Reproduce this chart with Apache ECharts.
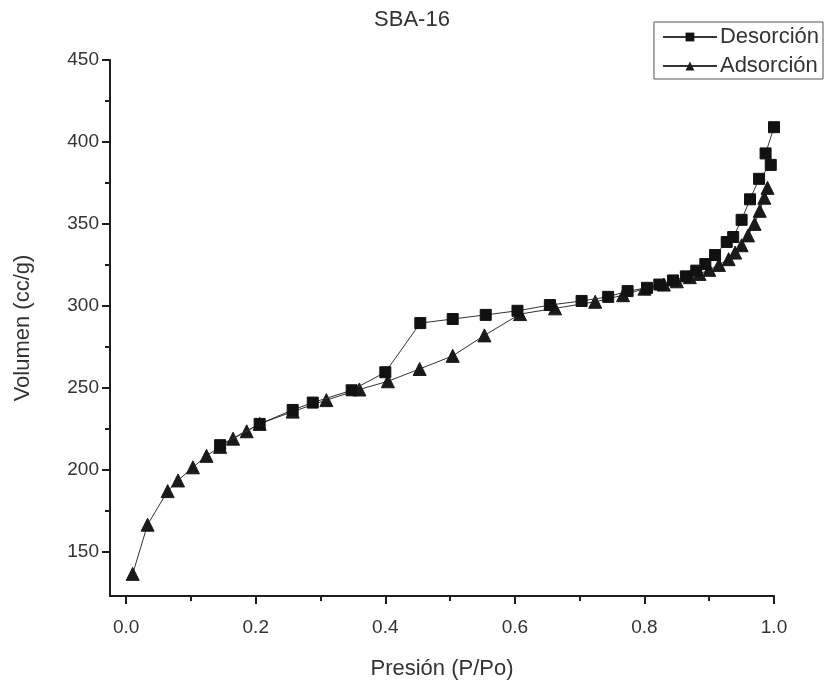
<!DOCTYPE html>
<html>
<head>
<meta charset="utf-8">
<script src="https://cdn.jsdelivr.net/npm/echarts@6/dist/echarts.min.js"></script>
<style>html,body{margin:0;padding:0;background:#fff}#c{width:829px;height:692px}</style>
</head>
<body>
<div id="c"></div>
<script>
// ---- data ----
var titleText = 'SBA-16';
var xName = 'Presión (P/Po)';
var yName = 'Volumen (cc/g)';
var xTickLabels = [0.0, 0.2, 0.4, 0.6, 0.8, 1.0];
var xMinorTicks = [0.1, 0.3, 0.5, 0.7, 0.9];
var yTickLabels = [150, 200, 250, 300, 350, 400, 450];
var yMinorTicks = [175, 225, 275, 325, 375, 425];

var desorcionP = [1.000, 0.987, 0.995, 0.977, 0.963, 0.950, 0.937, 0.927, 0.909, 0.894, 0.880, 0.864, 0.844, 0.823, 0.804, 0.774, 0.744, 0.703, 0.654, 0.604, 0.555, 0.504, 0.454, 0.400, 0.348, 0.288, 0.257, 0.206, 0.145];
var desorcionV = [409, 393, 386, 377.5, 365, 352.5, 342, 339, 331, 325.5, 321.5, 318, 315.5, 313, 311, 309, 305.5, 303, 300.5, 297, 294.5, 292, 289.5, 259.5, 248.5, 241, 236.5, 228, 215];

var adsorcionP = [0.010, 0.033, 0.064, 0.080, 0.103, 0.124, 0.145, 0.165, 0.186, 0.206, 0.257, 0.309, 0.360, 0.404, 0.453, 0.504, 0.553, 0.608, 0.662, 0.724, 0.767, 0.800, 0.830, 0.850, 0.870, 0.885, 0.900, 0.915, 0.930, 0.940, 0.950, 0.960, 0.970, 0.978, 0.985, 0.990];
var adsorcionV = [136.5, 166.5, 187, 193.5, 201.5, 208.5, 214, 219, 223.5, 228, 235.5, 242.5, 249, 254, 261.5, 269.5, 282, 295, 298.5, 302.5, 306.5, 310.5, 313, 315, 317.5, 319.5, 322, 325, 328.5, 332.5, 337, 343, 350, 358, 366, 372];

function pairs(xs, ys) { return xs.map(function (x, i) { return [x, ys[i]]; }); }

var ink = '#1e1e1e';
var fontFam = '"Liberation Sans", Arial, sans-serif';

var chart = echarts.init(document.getElementById('c'), null, { renderer: 'canvas' });
chart.setOption({
  backgroundColor: '#ffffff',
  animation: false,
  title: {
    text: titleText, left: 407, top: 4, textAlign: 'center',
    textStyle: { fontFamily: fontFam, fontSize: 22, fontWeight: 'normal', color: '#333' }
  },
  legend: {
    orient: 'vertical', right: 6, top: 22,
    borderColor: '#555', borderWidth: 1, borderRadius: 0,
    padding: [4, 4, 2, 8], itemGap: 7,
    itemWidth: 54, itemHeight: 11,
    textStyle: { fontFamily: fontFam, fontSize: 22, color: '#333', padding: [0, 0, 0, -2] },
    data: ['Desorción', 'Adsorción']
  },
  grid: { left: 110, right: 55, top: 60, bottom: 96, containLabel: false },
  xAxis: [
    {
      type: 'value', min: -0.025, max: 1.0,
      name: xName, nameLocation: 'middle', nameGap: 62,
      nameTextStyle: { fontFamily: fontFam, fontSize: 22, color: '#333' },
      axisLine: { show: true, onZero: false, lineStyle: { color: ink, width: 2 } },
      axisTick: { show: true, inside: false, length: 8, lineStyle: { color: ink, width: 2 }, customValues: xTickLabels },
      axisLabel: { show: true, margin: 22, fontFamily: fontFam, fontSize: 19, color: '#333', customValues: xTickLabels, formatter: function (v) { return v.toFixed(1); } },
      splitLine: { show: false }
    },
    {
      type: 'value', min: -0.025, max: 1.0, position: 'bottom',
      axisLine: { show: false, onZero: false },
      axisTick: { show: true, inside: false, length: 5, lineStyle: { color: ink, width: 2 }, customValues: xMinorTicks },
      axisLabel: { show: false },
      splitLine: { show: false }
    }
  ],
  yAxis: [
    {
      type: 'value', min: 123, max: 450,
      name: yName, nameLocation: 'middle', nameGap: 76,
      nameTextStyle: { fontFamily: fontFam, fontSize: 22, color: '#333' },
      axisLine: { show: true, onZero: false, lineStyle: { color: ink, width: 2 } },
      axisTick: { show: true, inside: false, length: 8, lineStyle: { color: ink, width: 2 }, customValues: yTickLabels },
      axisLabel: { show: true, margin: 11, fontFamily: fontFam, fontSize: 19, color: '#333', customValues: yTickLabels },
      splitLine: { show: false }
    },
    {
      type: 'value', min: 123, max: 450, position: 'left',
      axisLine: { show: false, onZero: false },
      axisTick: { show: true, inside: false, length: 5, lineStyle: { color: ink, width: 2 }, customValues: yMinorTicks },
      axisLabel: { show: false },
      splitLine: { show: false }
    }
  ],
  series: [
    {
      name: 'Desorción', type: 'line', xAxisIndex: 0, yAxisIndex: 0,
      data: pairs(desorcionP, desorcionV),
      symbol: 'rect', symbolSize: 11, showAllSymbol: true,
      lineStyle: { color: '#333', width: 1 },
      itemStyle: { color: '#111', borderColor: '#111' },
      z: 3
    },
    {
      name: 'Adsorción', type: 'line', xAxisIndex: 0, yAxisIndex: 0,
      data: pairs(adsorcionP, adsorcionV),
      symbol: 'triangle', symbolSize: 13, showAllSymbol: true,
      lineStyle: { color: '#333', width: 1 },
      itemStyle: { color: '#1a1a1a', borderColor: '#1a1a1a' },
      z: 2
    }
  ]
});
</script>
</body>
</html>
